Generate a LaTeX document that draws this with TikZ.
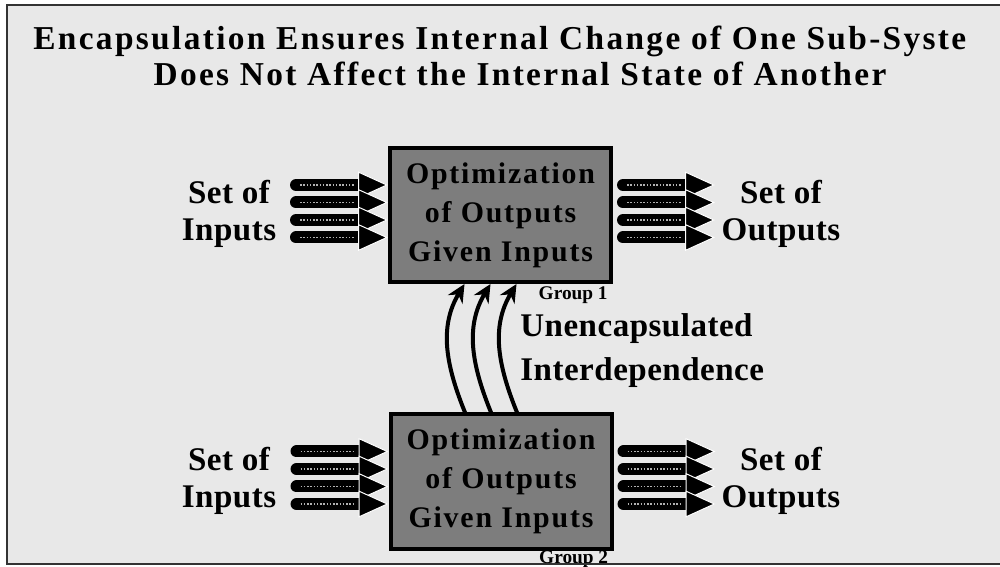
\documentclass[tikz,border=0pt]{standalone}
\usepackage{fontspec}
\setmainfont{Liberation Serif}
\newfontfamily\titlefont[LetterSpace=7]{Liberation Serif}
\newfontfamily\boxfont[LetterSpace=6]{Liberation Serif}
\newfontfamily\labelfont[LetterSpace=1.5]{Liberation Serif}
\usetikzlibrary{arrows.meta,calc}
\definecolor{slidebg}{gray}{0.91}
\definecolor{boxgray}{gray}{0.49}

\begin{document}
\begin{tikzpicture}[x=0.2mm, y=-0.2mm,
  optbox/.style={draw=black, line width=0.8mm, fill=boxgray, minimum width=44.2mm, minimum height=26.8mm,
    inner sep=0pt, align=center, font=\boxfont\bfseries\fontsize{17}{22.2}\selectfont},
  sidelabel/.style={align=center, inner sep=0pt, font=\labelfont\bfseries\fontsize{18.8}{21}\selectfont},
  grouplabel/.style={inner sep=0pt, font=\bfseries\fontsize{11}{13}\selectfont},
  titleline/.style={inner sep=0pt, font=\titlefont\bfseries\fontsize{19}{20}\selectfont},
  blockarrow/.style={line width=2.4mm, line cap=round,
    -{Triangle[length=6mm, width=5.4mm, color=white, fill=black, line width=0.2mm]}},
  shaftline/.style={gray!60, line width=0.3mm, densely dotted},
  linkarrow/.style={line width=0.8mm, -{Stealth[length=3.6mm, width=3.4mm]}}]
  % \draw[help lines] (0,0) grid[step=50] (1000,567);
  \useasboundingbox (0,0) rectangle (1000,567);
  \clip (0,0) rectangle (1000,567);
  \fill[slidebg] (7,5) rectangle (1010,564);

  \node[titleline, anchor=base west] (title1) at (33,50) {Encapsulation Ensures Internal Change of One Sub-Syste};
  \node[titleline, anchor=base] (title2) at (520,86) {Does Not Affect the Internal State of Another};

  \node[optbox] (opt1) at (500.5,215) {Optimization\\of Outputs\\Given Inputs}; % group 1
  \node[optbox] (opt2) at (501,481.5) {Optimization\\of Outputs\\Given Inputs}; % group 2
  \node[grouplabel, anchor=base east] (grp1) at ($(opt1.south east)+(-5,16)$) {Group 1};
  \node[grouplabel, anchor=base east] (grp2) at ($(opt2.south east)+(-5,13)$) {Group 2};

  \node[sidelabel] (in1) at (229,214) {Set of\\Inputs};
  \node[sidelabel] (out1) at (781,214) {Set of\\Outputs};
  \node[sidelabel] (in2) at (229,481) {Set of\\Inputs};
  \node[sidelabel] (out2) at (781,481) {Set of\\Outputs};

  \node[sidelabel, align=left, anchor=north west, font=\labelfont\bfseries\fontsize{18.8}{25}\selectfont]
    (link) at (520,313) {Unencapsulated\\Interdependence};

  % inputs and outputs of both groups
  \foreach \n in {1,2} {
    \foreach \dy in {-30,-12.5,5,22.5} {
      \draw[blockarrow] ($(opt\n.west)+(-92,\dy)$) -- ($(opt\n.west)+(0,\dy)$);
      \draw[shaftline] ($(opt\n.west)+(-88,\dy)$) -- ($(opt\n.west)+(-34,\dy)$);
      \draw[blockarrow] ($(opt\n.east)+(10,\dy)$) -- ($(opt\n.east)+(102,\dy)$);
      \draw[shaftline] ($(opt\n.east)+(14,\dy)$) -- ($(opt\n.east)+(68,\dy)$);
    }
  }

  % interdependence from group 2 up to group 1
  \foreach \dx in {-36,-10,16}
    \draw[linkarrow] ($(opt2.north)+(\dx,0)$) to[out=112, in=239] ($(opt1.south)+(\dx,0)$);

  \draw[line width=0.5mm, black!80] (7,5) rectangle (1010,564);
\end{tikzpicture}
\end{document}
